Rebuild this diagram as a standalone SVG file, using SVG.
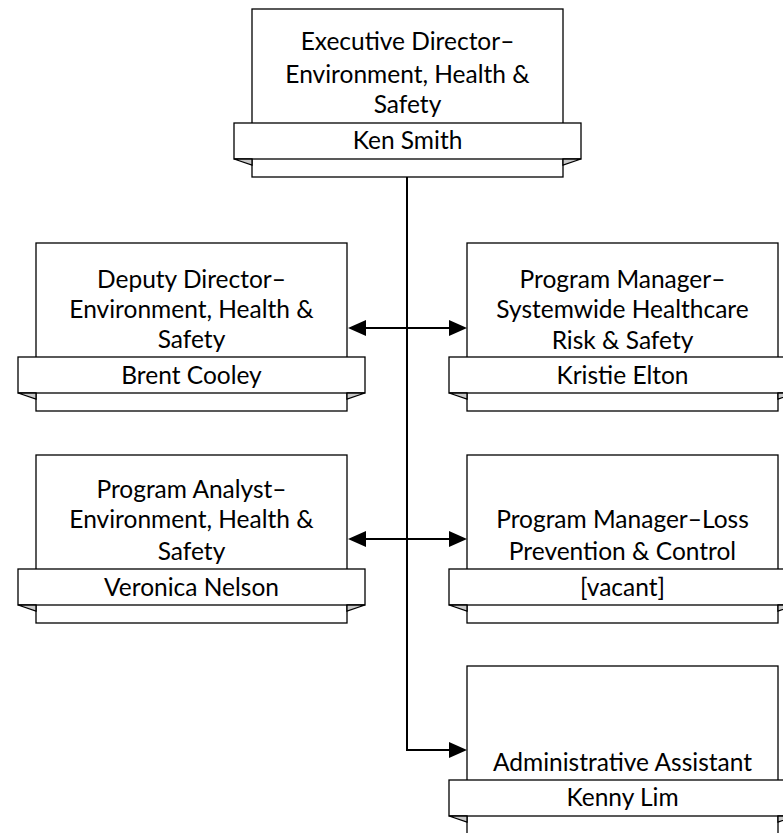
<svg xmlns="http://www.w3.org/2000/svg" width="783" height="833" viewBox="0 0 783 833">
<style>
.box{fill:#fff;stroke:#000;stroke-width:1.3}
.fold{fill:#c8c8c8;stroke:#000;stroke-width:1.3;stroke-linejoin:miter}
.t{font-family:Lato,"Liberation Sans",sans-serif;font-size:24.5px;fill:#000;text-anchor:middle}
.c{fill:none;stroke:#000;stroke-width:2}
</style>
<defs>
<marker id="ah" markerUnits="userSpaceOnUse" markerWidth="18" markerHeight="16" refX="10" refY="8" orient="auto-start-reverse" viewBox="0 0 18 16">
<path d="M0,0 L18,8 L0,16 z" fill="#000"/>
</marker>
<g id="shape">
<rect class="box" x="0" y="0" width="311" height="168"/>
<rect class="box" x="-18" y="114" width="347" height="36"/>
<polygon class="fold" points="-18,150 0,150 0,156"/>
<polygon class="fold" points="329,150 311,150 311,156"/>
</g>
</defs>
<g id="connectors">
<path class="c" d="M407,176 V750 H459" marker-end="url(#ah)"/>
<path class="c" d="M356,328 H459" marker-start="url(#ah)" marker-end="url(#ah)"/>
<path class="c" d="M356,539 H459" marker-start="url(#ah)" marker-end="url(#ah)"/>
</g>
<g id="exec" transform="translate(252,9)">
<use href="#shape"/>
<text class="t" x="155.5" y="41">Executive Director–</text>
<text class="t" x="155.5" y="74">Environment, Health &amp;</text>
<text class="t" x="155.5" y="104">Safety</text>
<text class="t" x="155.5" y="140">Ken Smith</text>
</g>
<g id="deputy" transform="translate(36,243)">
<use href="#shape"/>
<text class="t" x="155.5" y="45">Deputy Director–</text>
<text class="t" x="155.5" y="75">Environment, Health &amp;</text>
<text class="t" x="155.5" y="105">Safety</text>
<text class="t" x="155.5" y="141">Brent Cooley</text>
</g>
<g id="healthcare" transform="translate(467,243)">
<use href="#shape"/>
<text class="t" x="155.5" y="45">Program Manager–</text>
<text class="t" x="155.5" y="75">Systemwide Healthcare</text>
<text class="t" x="155.5" y="106">Risk &amp; Safety</text>
<text class="t" x="155.5" y="141">Kristie Elton</text>
</g>
<g id="analyst" transform="translate(36,455)">
<use href="#shape"/>
<text class="t" x="155.5" y="43">Program Analyst–</text>
<text class="t" x="155.5" y="73">Environment, Health &amp;</text>
<text class="t" x="155.5" y="105">Safety</text>
<text class="t" x="155.5" y="141">Veronica Nelson</text>
</g>
<g id="loss" transform="translate(467,455)">
<use href="#shape"/>
<text class="t" x="155.5" y="73">Program Manager–Loss</text>
<text class="t" x="155.5" y="105">Prevention &amp; Control</text>
<text class="t" x="155.5" y="141">[vacant]</text>
</g>
<g id="admin" transform="translate(467,666)">
<use href="#shape"/>
<text class="t" x="155.5" y="105">Administrative Assistant</text>
<text class="t" x="155.5" y="140">Kenny Lim</text>
</g>
</svg>
